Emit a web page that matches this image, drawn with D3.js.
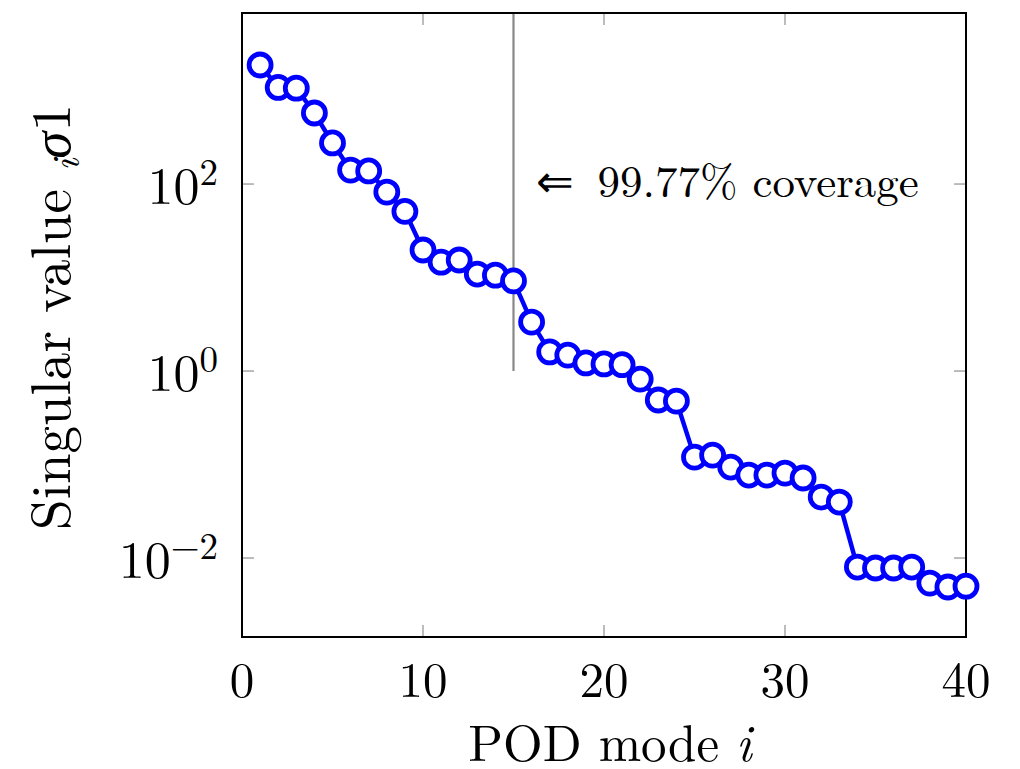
<!DOCTYPE html>
<html>
<head>
<meta charset="utf-8">
<script src="https://cdn.jsdelivr.net/npm/d3@7"></script>
<style>
body { margin: 0; background: #fff; }
text { font-family: "Latin Modern Roman", "Liberation Serif", serif; fill: #000; }
</style>
</head>
<body>
<div id="chart"></div>
<script>
// POD singular values
var modes = [1, 2, 3, 4, 5, 6, 7, 8, 9, 10,
    11, 12, 13, 14, 15, 16, 17, 18, 19, 20,
    21, 22, 23, 24, 25, 26, 27, 28, 29, 30,
    31, 32, 33, 34, 35, 36, 37, 38, 39, 40];
var sigma = [1875, 1080, 1060, 575, 275, 141, 138, 82, 51, 19.7,
    14.6, 15.4, 10.9, 10.6, 9.2, 3.34, 1.60, 1.48, 1.22, 1.19,
    1.17, 0.82, 0.49, 0.477, 0.120, 0.126, 0.094, 0.0772, 0.0772, 0.081,
    0.0718, 0.0449, 0.0397, 0.00801, 0.00782, 0.00782, 0.00801, 0.0054, 0.0049, 0.0050];
var xTicks = [0, 10, 20, 30, 40];
var yExps = [-2, 0, 2];
var cutoffMode = 15;
var coverageLabel = "\u21D0\u2009 99.77% coverage";

var width = 1020, height = 769;
// plot box (named so they don't clash with window.top)
var pLeft = 242, pRight = 966, pTop = 13, pBottom = 637;

var svg = d3.select("#chart").append("svg")
    .attr("width", width)
    .attr("height", height);

var x = d3.scaleLinear().domain([0, 40]).range([pLeft, pRight]);
var y = d3.scaleLog().domain([1.43e-3, 6.75e3]).range([pBottom, pTop]);

var data = modes.map(function(m, i) { return {m: m, v: sigma[i]}; });

// inner ticks (gray) on all four sides
var tickLen = 12;
var ticks = svg.append("g").attr("stroke", "#999").attr("stroke-width", 1.3);
xTicks.forEach(function(t) {
    ticks.append("line").attr("x1", x(t)).attr("x2", x(t)).attr("y1", pBottom).attr("y2", pBottom - tickLen);
    ticks.append("line").attr("x1", x(t)).attr("x2", x(t)).attr("y1", pTop).attr("y2", pTop + tickLen);
});
yExps.forEach(function(e) {
    var v = Math.pow(10, e);
    ticks.append("line").attr("x1", pLeft).attr("x2", pLeft + tickLen).attr("y1", y(v)).attr("y2", y(v));
    ticks.append("line").attr("x1", pRight).attr("x2", pRight - tickLen).attr("y1", y(v)).attr("y2", y(v));
});

// cutoff line
svg.append("line")
    .attr("x1", x(cutoffMode)).attr("x2", x(cutoffMode))
    .attr("y1", y(1)).attr("y2", pTop)
    .attr("stroke", "#888").attr("stroke-width", 2.2);

svg.append("text")
    .attr("x", x(cutoffMode) + 22)
    .attr("y", y(100) + 13)
    .attr("font-size", 45)
    .text(coverageLabel);

// frame
svg.append("rect")
    .attr("x", pLeft).attr("y", pTop)
    .attr("width", pRight - pLeft).attr("height", pBottom - pTop)
    .attr("fill", "none").attr("stroke", "#000").attr("stroke-width", 2);

// x tick labels
svg.append("g").selectAll("text").data(xTicks).join("text")
    .attr("x", function(d) { return x(d); })
    .attr("y", 697)
    .attr("text-anchor", "middle")
    .attr("font-size", 49)
    .text(function(d) { return d; });

// y tick labels 10^e
var yl = svg.append("g").selectAll("text").data(yExps).join("text")
    .attr("x", 218)
    .attr("y", function(d) { return y(Math.pow(10, d)) + 20; })
    .attr("text-anchor", "end")
    .attr("font-size", 52);
yl.append("tspan").text("10");
yl.append("tspan").attr("font-size", 37).attr("dy", -19)
    .text(function(d) { return d < 0 ? "\u2212" + (-d) : d; });

// axis titles
var xt = svg.append("text")
    .attr("x", 610)
    .attr("y", 761)
    .attr("text-anchor", "middle")
    .attr("font-size", 51);
xt.append("tspan").text("POD mode ");
xt.append("tspan").attr("font-style", "italic").text("i");

var ytl = svg.append("text")
    .attr("transform", "translate(70,317) rotate(-90)")
    .attr("text-anchor", "middle")
    .attr("font-size", 55);
ytl.append("tspan").text("Singular value ");
ytl.append("tspan").attr("font-style", "italic").attr("font-size", 39).attr("dy", 9).text("i");
ytl.append("tspan").attr("font-style", "italic").attr("dy", -9).text("\u03C3");
ytl.append("tspan").text("1");

// series line
svg.append("path")
    .datum(data)
    .attr("fill", "none")
    .attr("stroke", "#0000ff")
    .attr("stroke-width", 4.5)
    .attr("d", d3.line().x(function(d) { return x(d.m); }).y(function(d) { return y(d.v); }));

// markers
svg.append("g").selectAll("circle").data(data).join("circle")
    .attr("cx", function(d) { return x(d.m); })
    .attr("cy", function(d) { return y(d.v); })
    .attr("r", 11)
    .attr("fill", "#fff")
    .attr("stroke", "#0000ff")
    .attr("stroke-width", 4.8);
</script>
</body>
</html>
